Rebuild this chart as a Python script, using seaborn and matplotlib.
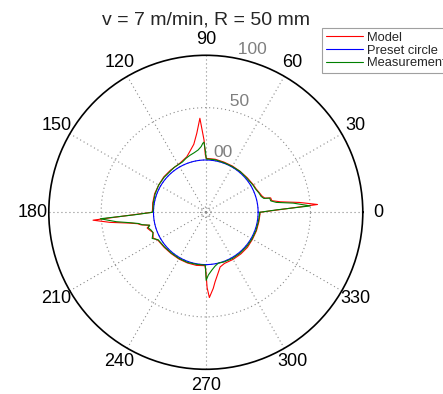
import numpy as np
import matplotlib
matplotlib.use("Agg")
import matplotlib.pyplot as plt
import seaborn as sns

# ---------------- data ----------------
title_text = "v = 7 m/min, R = 50 mm"
series_names = ["Model", "Preset circle", "Measurement"]

model_angle_deg = [0, 2, 4, 6, 8, 10, 12.5, 13.5, 16, 20, 25, 30, 40, 50, 60, 70, 80,
                   89.5, 90.5, 91.4, 93.6, 96.5, 100, 104.8, 109, 118, 130, 140, 150,
                   160, 170, 178, 180, 182, 184, 186, 188, 189.5, 191, 193, 195, 198,
                   201, 206, 210, 220, 230, 240, 250, 260, 269, 270, 271, 272.4, 275.6,
                   277.6, 281, 284.7, 290, 300, 310, 320, 330, 340, 350, 358, 360]
model_radius_mm = [51.8, 70, 107, 90, 72, 64, 63.5, 58, 56, 54.5, 53, 52.5, 51.5, 51, 51,
                   51, 51.5, 51.5, 55, 69, 90, 76, 66, 60, 56, 53, 52.5, 52.5, 52,
                   52, 51.5, 51, 51.5, 70, 108, 92, 74, 66, 63, 55, 58, 56,
                   54, 56, 53, 52, 51.5, 51.5, 51.5, 51.5, 51, 56, 72, 81.5, 73,
                   67, 60, 54, 52, 52, 52, 52, 51.5, 51.5, 51.5, 51.8, 51.8]

meas_angle_deg = [0, 2, 3.5, 6, 8, 10, 12.5, 13.5, 16, 20, 25, 30, 40, 50, 60, 70, 80,
                  89.5, 90.3, 91.5, 92.5, 94, 97, 101, 105.6, 110, 115, 125, 140, 150,
                  160, 170, 178, 180, 182, 183.5, 186, 188, 189.5, 191, 193, 195, 198,
                  201, 206, 210, 220, 230, 240, 250, 260, 269.5, 270.3, 272.3, 276,
                  280, 284, 290, 300, 310, 320, 330, 340, 350, 358, 360]
meas_radius_mm = [51.5, 68, 100, 84, 68, 63, 62.5, 57, 55, 54, 52.5, 52, 51, 51, 50.5,
                  50.5, 51, 51, 58, 67, 66, 63, 60, 58, 56.5, 55, 53, 52.5, 52, 52,
                  51.5, 51, 50.5, 51, 68, 101, 86, 72, 65, 62, 55, 57, 55,
                  54, 57, 52.5, 51.5, 51, 51, 51, 50.5, 50.5, 65, 60, 55.5,
                  52, 50, 50.5, 51, 51, 51, 51, 51, 51, 51.5, 51.5]

preset_radius_mm = 50

angle_tick_deg = [0, 30, 60, 90, 120, 150, 180, 210, 240, 270, 300, 330]
angle_tick_labels = ["0", "30", "60", "90", "120", "150", "180", "210", "240", "270", "300", "330"]
ring_radius = [50, 100, 150]
ring_labels = ["00", "50", "100"]
r_max = 150

# ---------------- style ----------------
sns.set_theme(style="white")
plt.rcParams['font.family'] = ['Liberation Sans', 'DejaVu Sans']

W, H = 443, 394
fig = plt.figure(figsize=(W / 100, H / 100), dpi=100)
cx, cy, R = 205.8, 212.3, 157.0
ax = fig.add_axes([(cx - R) / W, (H - cy - R) / H, 2 * R / W, 2 * R / H], projection='polar')
ax.set_ylim(0, r_max)
ax.set_xticks([])
ax.set_yticks([])
ax.grid(False)
ax.set_facecolor('white')
ax.spines['polar'].set_color('black')
ax.spines['polar'].set_linewidth(1.2)

grid_color = '#8a8a8a'
grid_kw = dict(color=grid_color, lw=0.8, dashes=(1, 2.6), zorder=1)
theta_c = np.linspace(0, 2 * np.pi, 361)
for rr in ring_radius[:-1]:
    ax.plot(theta_c, np.full_like(theta_c, rr), **grid_kw)
ax.plot(theta_c, np.full_like(theta_c, 5.0), **grid_kw)
for a in angle_tick_deg:
    t = np.deg2rad(a)
    ax.plot([t, t], [0, r_max], **grid_kw)

# angle labels
for a, lab in zip(angle_tick_deg, angle_tick_labels):
    ax.text(np.deg2rad(a), 1.1 * r_max, lab, ha='center', va='center',
            fontsize=13, color='black', clip_on=False)

# ring labels (MATLAB style at 82 deg)
for rr, lab in zip(ring_radius, ring_labels):
    txt = lab if lab == "00" else "  " + lab
    ax.text(np.deg2rad(82), rr, txt, ha='left', va='bottom', fontsize=12.5,
            color='#7f7f7f', clip_on=False)

# ---------------- data lines ----------------
preset_theta = np.deg2rad(np.arange(0, 361, 2))
sns.lineplot(x=np.deg2rad(model_angle_deg), y=model_radius_mm, ax=ax, sort=False,
             estimator=None, color='#ff0000', lw=0.8, legend=False)
ax.plot(preset_theta, np.full_like(preset_theta, preset_radius_mm), color='#0000ff', lw=0.8)
sns.lineplot(x=np.deg2rad(meas_angle_deg), y=meas_radius_mm, ax=ax, sort=False,
             estimator=None, color='#008000', lw=0.8, legend=False)
ax.set_xlabel('')
ax.set_ylabel('')
ax.set_ylim(0, r_max)
ax.set_xticks([])
ax.set_yticks([])

fig.text(cx / W, 1 - 20 / H, title_text, ha='center', va='center', fontsize=14)

handles = [plt.Line2D([], [], color=c, lw=0.8) for c in ['#ff0000', '#0000ff', '#008000']]
leg = fig.legend(handles, series_names, loc='upper left',
                 bbox_to_anchor=(322 / W, 1 - 28 / H), frameon=True, fancybox=False,
                 edgecolor='#888888', fontsize=9.3, handlelength=2.9, handletextpad=0.3,
                 borderpad=0.3, labelspacing=0.05, borderaxespad=0)
leg.get_frame().set_linewidth(0.8)

fig.savefig('out.png', dpi=100)
